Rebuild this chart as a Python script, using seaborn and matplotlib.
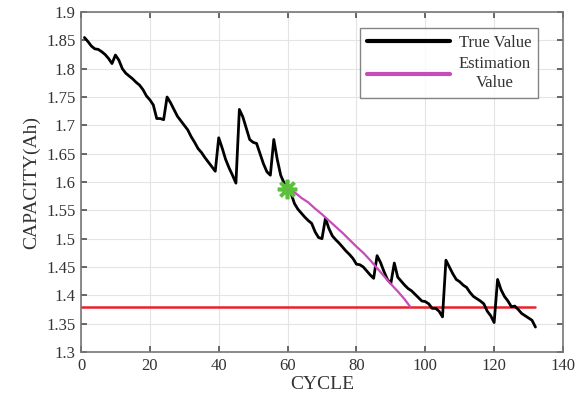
import matplotlib

matplotlib.use("Agg")
import matplotlib.pyplot as plt
import numpy as np
import pandas as pd
import seaborn as sns

cycles = list(range(1, 133))
capacity = [
    1.855, 1.848, 1.840, 1.835, 1.834, 1.830, 1.825, 1.818, 1.809, 1.824,
    1.815, 1.800, 1.792, 1.787, 1.782, 1.776, 1.771, 1.763, 1.752, 1.745,
    1.736, 1.712, 1.712, 1.710, 1.750, 1.740, 1.728, 1.716, 1.708, 1.700,
    1.692, 1.680, 1.670, 1.659, 1.652, 1.643, 1.635, 1.627, 1.619, 1.678,
    1.660, 1.640, 1.625, 1.612, 1.598, 1.728, 1.715, 1.695, 1.675, 1.670,
    1.668, 1.650, 1.632, 1.618, 1.612, 1.675, 1.640, 1.612, 1.598, 1.588,
    1.580, 1.562, 1.552, 1.545, 1.538, 1.532, 1.527, 1.512, 1.502, 1.500,
    1.536, 1.518, 1.505, 1.498, 1.492, 1.485, 1.478, 1.472, 1.465, 1.455,
    1.454, 1.450, 1.443, 1.436, 1.430, 1.470, 1.458, 1.442, 1.428, 1.421,
    1.457, 1.432, 1.425, 1.418, 1.412, 1.408, 1.402, 1.396, 1.390, 1.389,
    1.385, 1.377, 1.377, 1.372, 1.362, 1.462, 1.450, 1.438, 1.428, 1.424,
    1.418, 1.414, 1.405, 1.398, 1.394, 1.390, 1.385, 1.372, 1.364, 1.352,
    1.428, 1.410, 1.398, 1.390, 1.380, 1.381, 1.375, 1.368, 1.364, 1.360,
    1.356, 1.344,
]

# estimated trajectory from the prediction start point
est_cycles = [60, 62, 64, 66, 68, 70, 72, 74, 76, 78, 80, 82, 84, 86, 88, 90, 92, 94, 95.6]
est_capacity = [1.590, 1.582, 1.572, 1.564, 1.553, 1.543, 1.532, 1.521, 1.510, 1.498,
                1.486, 1.475, 1.462, 1.448, 1.434, 1.420, 1.407, 1.393, 1.380]

start_cycle = 59.7
start_capacity = 1.587
threshold = 1.38
threshold_end = 132

true_df = pd.DataFrame({"cycle": cycles, "capacity": capacity})
est_df = pd.DataFrame({"cycle": est_cycles, "capacity": est_capacity})

sns.set_theme(style="whitegrid")
plt.rcParams["font.family"] = ["Liberation Serif", "DejaVu Serif"]

fig = plt.figure(figsize=(5.82, 4.07), dpi=100)
ax = fig.add_axes([81 / 582, 1 - 352 / 407, 482 / 582, 340 / 407])

ax.plot([0, threshold_end], [threshold, threshold], color="#e8222a", lw=1.8, zorder=2)
sns.lineplot(data=true_df, x="cycle", y="capacity", ax=ax, color="black", lw=2.0,
             label="True Value", zorder=3)
sns.lineplot(data=est_df, x="cycle", y="capacity", ax=ax, color="#c74bb8", lw=1.6,
             label="Estimation\nValue", zorder=4)
ax.plot([start_cycle], [start_capacity], marker=(8, 2, 0), ms=14, mew=2.6,
        color="#5cc03c", zorder=5, linestyle="none")

ax.set_xlim(0, 140)
ax.set_ylim(1.3, 1.9)
ax.set_xticks(np.arange(0, 141, 20))
yt = np.round(np.arange(1.3, 1.901, 0.05), 2)
ax.set_yticks(yt)
ax.set_yticklabels([f"{v:g}" for v in yt])
ax.set_xlabel("CYCLE", fontsize=14, color="#333333", labelpad=2)
ax.set_ylabel("CAPACITY(Ah)", fontsize=14, color="#333333", labelpad=4)
ax.tick_params(axis="both", which="both", direction="in", length=4, labelsize=12,
               colors="#555555", labelcolor="#333333", top=True, right=True,
               bottom=True, left=True, pad=4)
ax.tick_params(axis="x", labeltop=False)
ax.tick_params(axis="y", labelright=False)
ax.grid(True, color="#e4e4e4", lw=0.8)
ax.set_facecolor("white")
for s in ax.spines.values():
    s.set_color("#777777")
    s.set_linewidth(1.2)

leg = ax.legend(loc="upper right", bbox_to_anchor=(0.948, 0.953), fontsize=12,
                frameon=True, fancybox=False, handlelength=5.0, borderpad=0.4,
                labelspacing=0.35, handletextpad=0.5, borderaxespad=0)
leg.get_frame().set_edgecolor("#666666")
leg.get_frame().set_linewidth(1.0)
for t in leg.get_texts():
    t.set_ha("center")
    t.set_color("#333333")
for h in leg.get_lines():
    h.set_linewidth(3)

fig.savefig("out.png", dpi=100)
